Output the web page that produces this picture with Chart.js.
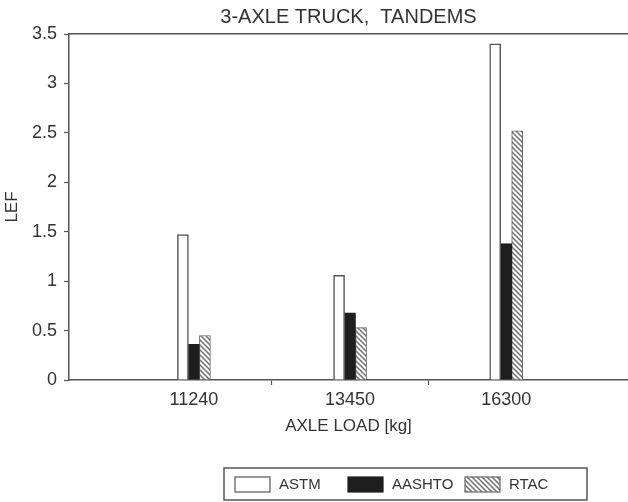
<!DOCTYPE html>
<html>
<head>
<meta charset="utf-8">
<script src="https://cdn.jsdelivr.net/npm/chart.js@4.4.1/dist/chart.umd.min.js"></script>
<style>
html, body { margin: 0; padding: 0; background: #fff; }
#wrap { width: 628px; height: 502px; }
</style>
</head>
<body>
<div id="wrap"><canvas id="lefChart"></canvas></div>
<script>
// axle loads (kg) and load equivalency factors
var loads = ['11240', '13450', '16300'];
var astm = [1.47, 1.06, 3.40];
var aashto = [0.36, 0.68, 1.38];
var rtac = [0.45, 0.53, 2.52];
var seriesNames = ['ASTM', 'AASHTO', 'RTAC'];

var INK = '#555';
var TEXT = '#333';
var FONT = "'Liberation Sans', Arial, sans-serif";

function hatchPattern() {
	var c = document.createElement('canvas');
	c.width = 5; c.height = 5;
	var g = c.getContext('2d');
	g.fillStyle = '#fff';
	g.fillRect(0, 0, 5, 5);
	g.strokeStyle = '#707070';
	g.lineWidth = 1.5;
	g.beginPath();
	g.moveTo(-1, -1); g.lineTo(6, 6);
	g.moveTo(-1, 4); g.lineTo(1, 6);
	g.moveTo(4, -1); g.lineTo(6, 1);
	g.stroke();
	return g.createPattern(c, 'repeat');
}

// bars sit at 1, 2, 3 on a linear x scale; marks between groups at 1.5, 2.5
function toPoints(vals) {
	return vals.map(function(v, i) { return {x: i + 1, y: v}; });
}

var xTickValues = [];
loads.forEach(function(l, i) {
	xTickValues.push(i + 1);
	if (i < loads.length - 1) xTickValues.push(i + 1.5);
});

// legend drawn in a framed box under the axis title
var boxedLegend = {
	id: 'boxedLegend',
	afterDraw: function(chart) {
		var ctx = chart.ctx;
		var cols = [235, 348, 465];
		ctx.save();
		ctx.strokeStyle = INK;
		ctx.lineWidth = 1.5;
		ctx.strokeRect(224, 468, 363, 32);
		ctx.font = '15px ' + FONT;
		ctx.fillStyle = TEXT;
		ctx.textBaseline = 'middle';
		chart.data.datasets.forEach(function(ds, i) {
			var x = cols[i];
			ctx.fillStyle = ds.backgroundColor;
			ctx.fillRect(x, 477, 35, 15);
			ctx.strokeStyle = ds.borderColor;
			ctx.lineWidth = 1.2;
			ctx.strokeRect(x, 477, 35, 15);
			ctx.fillStyle = TEXT;
			ctx.fillText(ds.label, x + 44, 485);
		});
		ctx.restore();
	}
};

new Chart(document.getElementById('lefChart'), {
	type: 'bar',
	data: {
		datasets: [
			{
				label: seriesNames[0],
				data: toPoints(astm),
				backgroundColor: '#fff',
				borderColor: INK,
				borderWidth: 1.5,
				barThickness: 11
			},
			{
				label: seriesNames[1],
				data: toPoints(aashto),
				backgroundColor: '#1e1e1e',
				borderColor: '#1e1e1e',
				borderWidth: 1,
				barThickness: 11
			},
			{
				label: seriesNames[2],
				data: toPoints(rtac),
				backgroundColor: hatchPattern(),
				borderColor: '#666',
				borderWidth: 1,
				barThickness: 11
			}
		]
	},
	options: {
		responsive: true,
		maintainAspectRatio: false,
		animation: false,
		layout: { padding: { left: 0, right: 0, top: 0, bottom: 65 } },
		plugins: {
			legend: { display: false },
			tooltip: { enabled: false },
			title: {
				display: true,
				text: '3-AXLE TRUCK,  TANDEMS',
				fullSize: false,
				color: TEXT,
				font: { family: FONT, size: 20, weight: 'normal' },
				padding: { top: 5, bottom: 5 }
			}
		},
		scales: {
			x: {
				type: 'linear',
				position: 'bottom',
				min: 0.2,
				max: 3.78,
				offset: false,
				afterBuildTicks: function(s) {
					s.ticks = xTickValues.map(function(v) { return {value: v}; });
				},
				ticks: {
					autoSkip: false,
					maxRotation: 0,
					padding: 4,
					color: TEXT,
					font: { family: FONT, size: 18 },
					callback: function(v) { return v % 1 ? '' : loads[v - 1]; }
				},
				grid: {
					offset: false,
					drawOnChartArea: false,
					tickLength: 5,
					tickWidth: 1.2,
					tickColor: function(c) {
						return c.tick && c.tick.value % 1 ? INK : 'rgba(0,0,0,0)';
					}
				},
				border: { color: INK, width: 1.5 },
				title: {
					display: true,
					text: 'AXLE LOAD [kg]',
					color: TEXT,
					font: { family: FONT, size: 17 },
					padding: { top: 2, bottom: 0 }
				}
			},
			xTop: {
				type: 'linear',
				position: 'top',
				min: 0.2,
				max: 3.78,
				ticks: { display: false },
				grid: { drawOnChartArea: false, drawTicks: false },
				border: { color: INK, width: 1.5 }
			},
			y: {
				min: 0,
				max: 3.5,
				afterFit: function(s) { s.width = 69; },
				ticks: {
					stepSize: 0.5,
					padding: 7,
					color: TEXT,
					font: { family: FONT, size: 18 },
					callback: function(v) { return String(v); }
				},
				grid: {
					drawOnChartArea: false,
					tickLength: 5,
					tickWidth: 1.2,
					tickColor: INK
				},
				border: { color: INK, width: 1.5 },
				title: {
					display: true,
					text: 'LEF',
					color: TEXT,
					font: { family: FONT, size: 17 },
					padding: { top: 2, bottom: 10 }
				}
			}
		}
	},
	plugins: [boxedLegend]
});
</script>
</body>
</html>
